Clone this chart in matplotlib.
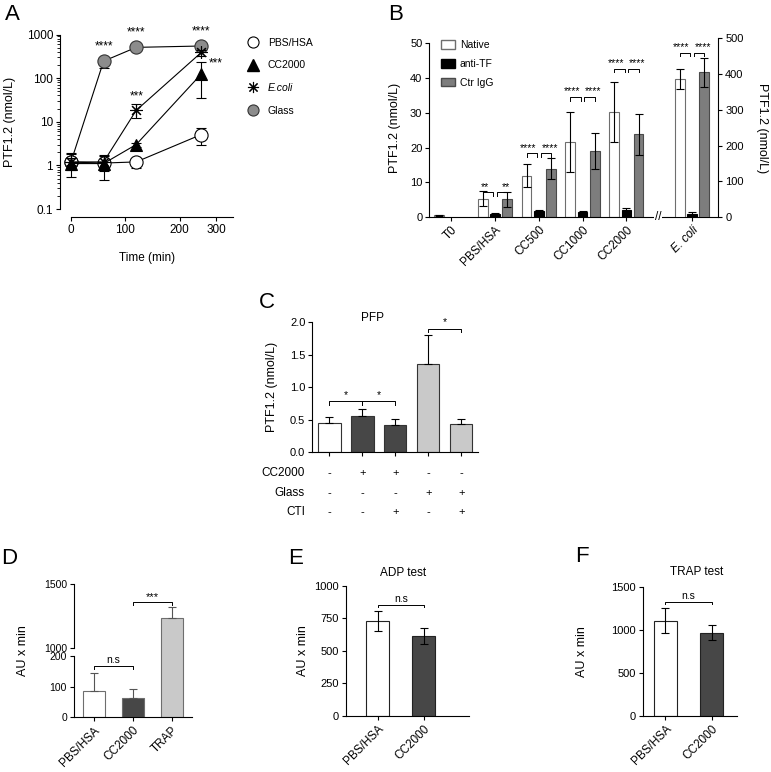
import numpy as np
import matplotlib
matplotlib.use('Agg')
import matplotlib.pyplot as plt
from matplotlib.transforms import blended_transform_factory as btf
from matplotlib.patches import Patch
from matplotlib.lines import Line2D

plt.rcParams['font.family'] = ['Liberation Sans', 'DejaVu Sans']
plt.rcParams['font.size'] = 8
plt.rcParams['axes.linewidth'] = 0.8
plt.rcParams['xtick.major.width'] = 0.8
plt.rcParams['ytick.major.width'] = 0.8
plt.rcParams['xtick.major.size'] = 3
plt.rcParams['ytick.major.size'] = 3
plt.rcParams['xtick.major.pad'] = 2
plt.rcParams['ytick.major.pad'] = 2

# ---------------- data ----------------
# Panel A
time_min = [0, 60, 120, 240]
time_ticks = [0, 100, 200, 267]
time_ticklabels = ['0', '100', '200', '300']
pbs_a = [1.19, 1.13, 1.2, 5.1]
pbs_a_lo = [1.0, 1.0, 0.85, 3.0]
pbs_a_hi = [1.4, 1.3, 1.35, 7.2]
cc2000_a = [1.1, 1.1, 3.0, 125]
cc2000_a_lo = [0.55, 0.47, 2.7, 35]
cc2000_a_hi = [1.8, 1.6, 3.3, 230]
ecoli_a = [1.2, 1.2, 18.2, 390]
ecoli_a_lo = [1.0, 0.75, 12, 320]
ecoli_a_hi = [1.5, 1.75, 25, 450]
glass_a = [1.2, 245, 507, 545]
glass_a_lo = [0.8, 170, 470, 500]
glass_a_hi = [1.9, 280, 560, 600]

# Panel B
b_labels = ['T0', 'PBS/HSA', 'CC500', 'CC1000', 'CC2000', 'E. coli']
t0_native, t0_native_err = 0.5, 0.1
native_b = [5.3, 11.9, 21.6, 30.3]
native_b_err = [2.2, 3.4, 8.7, 8.7]
antitf_b = [1.0, 1.7, 1.3, 2.0]
antitf_b_err = [0.2, 0.3, 0.3, 0.6]
igg_b = [5.1, 13.9, 19.0, 23.8]
igg_b_err = [2.1, 3.0, 5.2, 5.9]
bracket_b = [7.1, 18.3, 34.5, 42.6]
stars_b = ['**', '****', '****', '****']
ecoli_native, ecoli_native_err = 385, 28
ecoli_antitf, ecoli_antitf_err = 9, 5
ecoli_igg, ecoli_igg_err = 405, 40
ecoli_bracket = 460

# Panel C
c_values = [0.446, 0.554, 0.426, 1.354, 0.436]
c_err = [0.094, 0.116, 0.084, 0.446, 0.084]
c_colors = ['white', '#474747', '#474747', '#c9c9c9', '#c9c9c9']
c_rows = ['CC2000', 'Glass', 'CTI']
c_cc2000 = ['-', '+', '+', '-', '-']
c_glass = ['-', '-', '-', '+', '+']
c_cti = ['-', '-', '+', '-', '+']

# Panel D
d_labels = ['PBS/HSA', 'CC2000', 'TRAP']
d_values = [84, 63, 1237]
d_err = [61, 29, 81]
d_colors = ['white', '#474747', '#c9c9c9']

# Panel E
e_labels = ['PBS/HSA', 'CC2000']
e_values = [730, 614]
e_err = [78, 65]

# Panel F
f_labels = ['PBS/HSA', 'CC2000']
f_values = [1110, 970]
f_err = [148, 90]

W, H = 771, 772
fig = plt.figure(figsize=(W / 100, H / 100), dpi=100)


def rect(l, r, t, b):
    return [l / W, 1 - b / H, (r - l) / W, (b - t) / H]


def clean(ax):
    ax.spines['top'].set_visible(False)
    ax.spines['right'].set_visible(False)


def bracket(ax, x1, x2, y, h, text, fs=8, tpad=0.0, tx=None):
    ax.plot([x1, x1, x2, x2], [y - h, y, y, y - h], color='black', lw=0.7,
            clip_on=False)
    if tx is None:
        tx = (x1 + x2) / 2
    ax.text(tx, y + tpad, text, ha='center', va='bottom',
            fontsize=fs, clip_on=False)


def flabel(x, y, s):
    fig.text(x / W, 1 - y / H, s, fontsize=16, ha='center', va='center')

# ---------------- Panel A ----------------
axA = fig.add_axes(rect(60, 233.3, 34.5, 209))
clean(axA)
axA.set_yscale('log')
axA.set_ylim(0.1, 1000)
axA.set_xlim(-20.2, 298.7)
axA.spines['bottom'].set_position(('outward', 5.5))
axA.spines['bottom'].set_bounds(0, 298.7)
axA.set_xticks(time_ticks, labels=time_ticklabels)
axA.set_yticks([0.1, 1, 10, 100, 1000], labels=['0.1', '1', '10', '100', '1000'])
axA.tick_params(labelsize=8.5)
axA.tick_params(axis='y', which='minor', length=2, width=0.6)
axA.set_xlabel('Time (min)', fontsize=8.5, labelpad=12)
axA.set_ylabel('PTF1.2 (nmol/L)', fontsize=9)
axA.yaxis.set_label_coords(-0.254, 0.5)

series = [
    (glass_a, glass_a_lo, glass_a_hi, dict(marker='o', ms=9.5, mfc='#8c8c8c', mec='#333333', mew=0.8)),
    (pbs_a, pbs_a_lo, pbs_a_hi, dict(marker='o', ms=9.5, mfc='white', mec='black', mew=0.8)),
    (ecoli_a, ecoli_a_lo, ecoli_a_hi, dict(marker=(8, 2, 0), ms=9, mfc='black', mec='black', mew=0.8)),
    (cc2000_a, cc2000_a_lo, cc2000_a_hi, dict(marker='^', ms=9, mfc='black', mec='black', mew=0.8)),
]
for z, (vals, lo, hi, st) in enumerate(series):
    v = np.array(vals)
    yerr = [v - np.array(lo), np.array(hi) - v]
    axA.errorbar(time_min, v, yerr=yerr, fmt='none', ecolor='black', elinewidth=0.8,
                 capsize=3.5, capthick=0.8, zorder=2 + z * 2, clip_on=False)
    axA.plot(time_min, v, color='black', lw=0.8, zorder=3 + z * 2, clip_on=False, **st)

sfs = 8.5
axA.text(time_min[1], 380, '****', ha='center', va='bottom', fontsize=sfs)
axA.text(time_min[2], 800, '****', ha='center', va='bottom', fontsize=sfs)
axA.text(time_min[3], 840, '****', ha='center', va='bottom', fontsize=sfs)
axA.text(time_min[2], 28, '***', ha='center', va='bottom', fontsize=sfs)
axA.text(time_min[3] + 13, 220, '***', ha='left', va='center', fontsize=sfs)

handlesA = [
    Line2D([], [], ls='none', marker='o', ms=8, mfc='white', mec='black', mew=0.8),
    Line2D([], [], ls='none', marker='^', ms=8, mfc='black', mec='black'),
    Line2D([], [], ls='none', marker=(8, 2, 0), ms=8, mfc='black', mec='black', mew=0.8),
    Line2D([], [], ls='none', marker='o', ms=8, mfc='#8c8c8c', mec='#333333', mew=0.8),
]
legA = fig.legend(handlesA, ['PBS/HSA', 'CC2000', 'E.coli', 'Glass'], loc='upper left',
                  bbox_to_anchor=(248 / W, 1 - 38 / H), frameon=False, fontsize=7.5,
                  handlelength=1.0, handletextpad=0.9, labelspacing=1.2, borderpad=0,
                  borderaxespad=0)
legA.get_texts()[2].set_style('italic')
flabel(12, 15, 'A')

# ---------------- Panel B ----------------
axB = fig.add_axes(rect(429.3, 718.3, 38.3, 217))
axB.spines['top'].set_visible(False)
axB.spines['right'].set_visible(False)
axB.set_ylim(0, 50 * 178.7 / 173.7)
axB.spines['left'].set_bounds(0, 50)
axB.set_yticks([0, 10, 20, 30, 40, 50])
grp = np.arange(1, len(native_b) + 1)
ecoli_x = len(native_b) + 1.5
xmax_b = ecoli_x + 0.6
axB.set_xlim(-0.5, xmax_b)
off, bw = 0.28, 0.22
ek = dict(ecolor='black', elinewidth=0.8, capsize=3, capthick=0.8)
axB.bar(0 - off, t0_native, bw, yerr=t0_native_err, color='white', edgecolor='#6e6e6e', lw=0.8, error_kw=ek)
axB.bar(grp - off, native_b, bw, yerr=native_b_err, color='white', edgecolor='#6e6e6e', lw=0.8, error_kw=ek)
axB.bar(grp, antitf_b, bw, yerr=antitf_b_err, color='black', edgecolor='black', lw=0.8, error_kw=ek)
axB.bar(grp + off, igg_b, bw, yerr=igg_b_err, color='#7d7d7d', edgecolor='#4a4a4a', lw=0.8, error_kw=ek)
axB.set_xticks(list(range(0, len(native_b) + 1)) + [ecoli_x])
axB.set_xticklabels(b_labels, rotation=45, ha='right', rotation_mode='anchor', fontsize=8.5)
axB.get_xticklabels()[-1].set_style('italic')
axB.set_ylabel('PTF1.2 (nmol/L)', fontsize=9)
axB.yaxis.set_label_coords(-0.098, 0.5)
for g, yb, st in zip(grp, bracket_b, stars_b):
    bracket(axB, g - off, g - 0.04, yb, 1.0, st, fs=7.5, tpad=0.2, tx=g - 0.24)
    bracket(axB, g + 0.04, g + off, yb, 1.0, st, fs=7.5, tpad=0.2, tx=g + 0.25)
axB.text(len(native_b) + 0.72, 0, '//', ha='center', va='center', fontsize=8.5,
         bbox=dict(facecolor='white', edgecolor='none', pad=0.5))

axB2 = axB.twinx()
for s in ['top', 'left', 'bottom']:
    axB2.spines[s].set_visible(False)
axB2.set_ylim(0, 500)
axB2.set_yticks([0, 100, 200, 300, 400, 500])
axB2.bar(ecoli_x - off, ecoli_native, bw, yerr=ecoli_native_err, color='white', edgecolor='#6e6e6e', lw=0.8, error_kw=ek)
axB2.bar(ecoli_x, ecoli_antitf, bw, yerr=ecoli_antitf_err, color='black', edgecolor='black', lw=0.8, error_kw=ek)
axB2.bar(ecoli_x + off, ecoli_igg, bw, yerr=ecoli_igg_err, color='#7d7d7d', edgecolor='#4a4a4a', lw=0.8, error_kw=ek)
bracket(axB2, ecoli_x - off, ecoli_x - 0.04, ecoli_bracket, 10, '****', fs=7.5, tpad=2, tx=ecoli_x - 0.24)
bracket(axB2, ecoli_x + 0.04, ecoli_x + off, ecoli_bracket, 10, '****', fs=7.5, tpad=2, tx=ecoli_x + 0.25)
axB2.set_ylabel('PTF1.2 (nmol/L)', fontsize=9, rotation=270, va='bottom')
axB2.yaxis.set_label_coords(1.13, 0.5)

handlesB = [Patch(facecolor='white', edgecolor='#6e6e6e'),
            Patch(facecolor='black', edgecolor='black'),
            Patch(facecolor='#7d7d7d', edgecolor='#4a4a4a')]
fig.legend(handlesB, ['Native', 'anti-TF', 'Ctr IgG'], loc='upper left',
           bbox_to_anchor=(441 / W, 1 - 40 / H), frameon=False, fontsize=7.5,
           handlelength=1.3, handleheight=0.9, handletextpad=0.5, labelspacing=0.85,
           borderpad=0, borderaxespad=0)
flabel(396, 14, 'B')

# ---------------- Panel C ----------------
axC = fig.add_axes(rect(312.3, 478.3, 322.3, 452.3))
clean(axC)
xc = np.arange(len(c_values))
axC.bar(xc, c_values, 0.68, color=c_colors, edgecolor='#333333', lw=0.8,
        yerr=[np.zeros(len(c_err)), c_err], error_kw=ek)
axC.set_xlim(-0.52, len(c_values) - 0.48)
axC.set_ylim(0, 2.0)
axC.set_yticks([0, 0.5, 1.0, 1.5, 2.0], labels=['0.0', '0.5', '1.0', '1.5', '2.0'])
axC.set_xticks(xc, labels=[''] * len(xc))
axC.set_ylabel('PTF1.2 (nmol/L)', fontsize=9)
axC.yaxis.set_label_coords(-0.208, 0.5)
bracket(axC, 0, 1, 0.785, 0.05, '*', fs=7.5, tpad=0.02)
bracket(axC, 1, 2, 0.785, 0.05, '*', fs=7.5, tpad=0.02)
bracket(axC, 3, 4, 1.9, 0.05, '*', fs=7.5, tpad=0.02)
fig.text(373 / W, 1 - 318 / H, 'PFP', ha='center', va='center', fontsize=8.5)
tr = btf(axC.transData, axC.transAxes)
for row_y, name, signs in zip([-0.1615, -0.311, -0.457], c_rows, [c_cc2000, c_glass, c_cti]):
    axC.text(-0.044, row_y, name, transform=axC.transAxes, ha='right', va='center', fontsize=8.5)
    for xi, s in zip(xc, signs):
        axC.text(xi, row_y, s, transform=tr, ha='center', va='center', fontsize=8)
flabel(267, 302, 'C')

# ---------------- Panel D ----------------
def brk_fwd(y):
    y = np.asarray(y, dtype=float)
    return np.where(y <= 200, y, np.where(y >= 1000, 226 + (y - 1000) * 0.4117,
                                          200 + (y - 200) * 26 / 800))


def brk_inv(u):
    u = np.asarray(u, dtype=float)
    return np.where(u <= 200, u, np.where(u >= 226, 1000 + (u - 226) / 0.4117,
                                          200 + (u - 200) * 800 / 26))

axD = fig.add_axes(rect(74, 191.7, 584.3, 717.3))
clean(axD)
axD.set_yscale('function', functions=(brk_fwd, brk_inv))
axD.set_ylim(0, 1500)
axD.spines['left'].set_visible(False)
trD = btf(axD.transAxes, axD.transData)
axD.plot([0, 0], [0, 200], color='black', lw=0.8, transform=trD, clip_on=False)
axD.plot([0, 0], [1000, 1500], color='black', lw=0.8, transform=trD, clip_on=False)
xd = np.arange(len(d_values))
axD.bar(xd, d_values, 0.57, color=d_colors, edgecolor='#6e6e6e', lw=0.8,
        yerr=[np.zeros(len(d_err)), d_err], error_kw=dict(ecolor='#555555', elinewidth=0.8, capsize=3, capthick=0.8))
axD.set_xlim(-0.51, len(d_values) - 0.49)
axD.set_yticks([0, 100, 200, 1000, 1500], labels=['0', '100', '200', '1000', '1500'])
axD.yaxis.set_minor_locator(matplotlib.ticker.NullLocator())
axD.tick_params(axis='y', labelsize=7.5)
axD.set_xticks(xd)
axD.set_xticklabels(d_labels, rotation=45, ha='right', rotation_mode='anchor', fontsize=8.5)
axD.set_ylabel('AU x min', fontsize=9)
axD.yaxis.set_label_coords(-0.38, 0.5)
bracket(axD, 0, 1, 168, 10, 'n.s', fs=7.5, tpad=3)
bracket(axD, 1, 2, 1358, 25, '***', fs=8, tpad=5)
flabel(9, 559, 'D')

# ---------------- Panel E ----------------
axE = fig.add_axes(rect(346, 469.3, 586, 715.7))
clean(axE)
xe = np.arange(len(e_values))
axE.bar(xe, e_values, 0.49, color=['white', '#474747'], edgecolor='#222222', lw=0.8,
        yerr=e_err, error_kw=ek)
axE.set_xlim(-0.69, 1.99)
axE.set_ylim(0, 1000)
axE.set_yticks([0, 250, 500, 750, 1000])
axE.set_xticks(xe)
axE.set_xticklabels(e_labels, rotation=45, ha='right', rotation_mode='anchor', fontsize=8.5)
axE.set_ylabel('AU x min', fontsize=9)
axE.yaxis.set_label_coords(-0.298, 0.5)
bracket(axE, 0, 1, 851, 15, 'n.s', fs=7.5, tpad=8)
fig.text(402.7 / W, 1 - 572.7 / H, 'ADP test', ha='center', va='center', fontsize=8.5)
flabel(296, 559, 'E')

# ---------------- Panel F ----------------
axF = fig.add_axes(rect(642.7, 737.3, 587.3, 715.7))
clean(axF)
xf = np.arange(len(f_values))
axF.bar(xf, f_values, 0.5, color=['white', '#474747'], edgecolor='#222222', lw=0.8,
        yerr=f_err, error_kw=ek)
axF.set_xlim(-0.49, 1.555)
axF.set_ylim(0, 1500)
axF.set_yticks([0, 500, 1000, 1500])
axF.set_xticks(xf)
axF.set_xticklabels(f_labels, rotation=45, ha='right', rotation_mode='anchor', fontsize=8.5)
axF.set_ylabel('AU x min', fontsize=9)
axF.yaxis.set_label_coords(-0.581, 0.5)
bracket(axF, 0, 1, 1332, 25, 'n.s', fs=7.5, tpad=12)
fig.text(696.7 / W, 1 - 571.7 / H, 'TRAP test', ha='center', va='center', fontsize=8.5)
flabel(582, 557, 'F')

fig.savefig('out.png', dpi=100)
